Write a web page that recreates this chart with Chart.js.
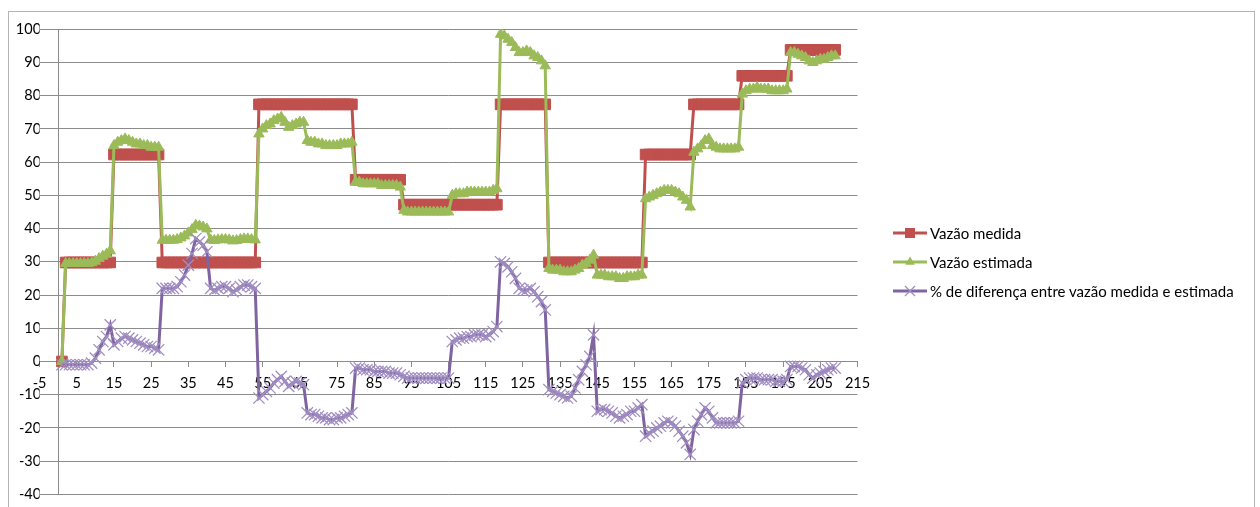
<!DOCTYPE html>
<html>
<head>
<meta charset="utf-8">
<script src="https://cdn.jsdelivr.net/npm/chart.js@4.4.1/dist/chart.umd.min.js"></script>
<style>
  html, body { margin: 0; padding: 0; background: #fff; overflow: hidden; }
  #wrap { position: relative; width: 1260px; height: 507px; }
  #frame { position: absolute; left: 8px; top: 11px; width: 1247px; height: 560px;
           border: 1px solid #b4b4b4; box-sizing: border-box; }
  #grafico { position: absolute; left: 0; top: 0; }
  #legenda { position: absolute; left: 893px; top: 218px; font-family: Lato, sans-serif;
             font-size: 15px; color: #000; }
  .item { display: flex; align-items: center; height: 29px; white-space: nowrap; }
  .item canvas { margin-right: 3px; }
</style>
</head>
<body>
<div id="wrap">
  <div id="frame"></div>
  <canvas id="grafico" width="1260" height="507"></canvas>
  <div id="legenda"></div>
</div>
<script>
// Número da amostra (eixo X)
const amostras = Array.from({ length: 209 }, (_, i) => i + 1);

// Marcas do eixo X
const marcasX = [-5, 5, 15, 25, 35, 45, 55, 65, 75, 85, 95, 105, 115, 125, 135, 145,
                 155, 165, 175, 185, 195, 205, 215];

const nomesSeries = [
  'Vazão medida',
  'Vazão estimada',
  '% de diferença entre vazão medida e estimada'
];

const vazaoMedida = [
  0,
  29.8, 29.8, 29.8, 29.8, 29.8, 29.8, 29.8, 29.8, 29.8, 29.8, 29.8, 29.8, 29.8,
  62.3, 62.3, 62.3, 62.3, 62.3, 62.3, 62.3, 62.3, 62.3, 62.3, 62.3, 62.3, 62.3,
  29.8, 29.8, 29.8, 29.8, 29.8, 29.8, 29.8, 29.8, 29.8, 29.8, 29.8, 29.8, 29.8,
  29.8, 29.8, 29.8, 29.8, 29.8, 29.8, 29.8, 29.8, 29.8, 29.8, 29.8, 29.8, 29.8,
  77.4, 77.4, 77.4, 77.4, 77.4, 77.4, 77.4, 77.4, 77.4, 77.4, 77.4, 77.4, 77.4,
  77.4, 77.4, 77.4, 77.4, 77.4, 77.4, 77.4, 77.4, 77.4, 77.4, 77.4, 77.4, 77.4,
  54.7, 54.7, 54.7, 54.7, 54.7, 54.7, 54.7, 54.7, 54.7, 54.7, 54.7, 54.7, 54.7,
  47.2, 47.2, 47.2, 47.2, 47.2, 47.2, 47.2, 47.2, 47.2, 47.2, 47.2, 47.2, 47.2,
  47.2, 47.2, 47.2, 47.2, 47.2, 47.2, 47.2, 47.2, 47.2, 47.2, 47.2, 47.2, 47.2,
  77.4, 77.4, 77.4, 77.4, 77.4, 77.4, 77.4, 77.4, 77.4, 77.4, 77.4, 77.4, 77.4,
  29.8, 29.8, 29.8, 29.8, 29.8, 29.8, 29.8, 29.8, 29.8, 29.8, 29.8, 29.8, 29.8,
  29.8, 29.8, 29.8, 29.8, 29.8, 29.8, 29.8, 29.8, 29.8, 29.8, 29.8, 29.8, 29.8,
  62.3, 62.3, 62.3, 62.3, 62.3, 62.3, 62.3, 62.3, 62.3, 62.3, 62.3, 62.3, 62.3,
  77.4, 77.4, 77.4, 77.4, 77.4, 77.4, 77.4, 77.4, 77.4, 77.4, 77.4, 77.4, 77.4,
  86, 86, 86, 86, 86, 86, 86, 86, 86, 86, 86, 86, 86,
  93.8, 93.8, 93.8, 93.8, 93.8, 93.8, 93.8, 93.8, 93.8, 93.8, 93.8, 93.8, 93.8
];

const vazaoEstimada = [
  0,
  29.5, 29.5, 29.5, 29.5, 29.5, 29.5, 29.5, 29.7, 30.2, 31, 31.7, 32.3, 33.3,
  65, 66, 66.5, 67, 66.5, 66, 65.5, 65.5, 65, 65, 64.5, 64.5, 64.5,
  36.5, 36.5, 36.5, 36.5, 36.7, 37.2, 37.8, 38.7, 39.7, 41, 40.8, 40.5, 39.9,
  36.6, 36.4, 36.6, 36.7, 36.7, 36.6, 36.3, 36.4, 36.7, 36.9, 36.9, 36.7, 36.6,
  68.5, 70, 71, 71.5, 72.5, 73, 73.5, 72, 70.5, 71, 71.5, 72, 72,
  66.5, 66, 66, 65.5, 65.5, 65, 65, 65, 65, 65.5, 65.5, 65.5, 66,
  54, 54, 53.5, 53.5, 53.5, 53.5, 53.5, 53, 53, 53, 53, 53, 52.5,
  45.5, 45, 45, 45, 45, 45, 45, 45, 45, 45, 45, 45, 45,
  50, 50.5, 50.5, 50.5, 51, 51, 51, 51, 51, 51, 51, 51.5, 52,
  98.5, 98, 97, 96, 94.5, 93, 93, 93.5, 93, 92, 91.5, 90.5, 89,
  28, 27.5, 27.5, 27.5, 27, 27, 27, 27.5, 28, 29, 29.5, 30.5, 32,
  26, 26, 26, 25.5, 25.5, 25.5, 25, 25, 25.5, 25.5, 25.5, 26, 26,
  49, 49.5, 50, 50.5, 51, 51.5, 51.5, 51.5, 51, 50.5, 49.5, 48.5, 46.5,
  63, 64, 65, 66.5, 67, 65, 64.5, 64, 64, 64, 64, 64, 64.5,
  80.5, 81.5, 82, 82, 82.5, 82, 82, 82, 81.5, 81.5, 81.5, 81.5, 82,
  93, 93, 92.5, 92, 91.5, 90.5, 90, 90.5, 91, 91, 91.5, 92, 92
];

const diferencaPct = [
  -1,
  -1, -1, -1, -1, -1, -1, -1, -0.5, 1, 3.5, 6, 7.5, 11,
  5, 6, 7, 7.5, 7, 6.5, 6, 5.5, 5, 4.5, 4.5, 4, 3.5,
  22, 22, 22, 22, 22.5, 24, 26, 29, 32.5, 37, 36, 35, 33,
  22, 21.5, 22, 22.5, 22.5, 22, 21, 21.5, 22.5, 23, 23, 22.5, 22,
  -11, -10, -9, -8, -6.5, -5.5, -4.5, -6, -7.5, -6.5, -6, -6.5, -7,
  -15.5, -16, -16, -16.5, -17, -17, -17.5, -17.5, -17, -17, -16.5, -16, -15.5,
  -2, -2, -2.5, -2.5, -2.5, -3, -3, -3, -3, -3.5, -3.5, -3.5, -4,
  -4.5, -5, -5, -5, -5, -5, -5, -5, -5, -5, -5, -5, -5,
  6, 6.5, 7, 7, 7.5, 7.5, 8, 8, 8, 7.5, 8, 9, 10.5,
  30, 29.5, 28.5, 27, 25, 22, 21.5, 21.5, 22, 21, 19.5, 18, 15.5,
  -8.5, -9, -9.5, -10, -10.5, -11, -10.5, -8, -5.5, -3, -1, 1.5, 8,
  -15, -14.5, -14.5, -15, -15.5, -16.5, -17, -16.5, -16, -15, -15, -14, -13,
  -22.5, -21.5, -21, -20, -19.5, -18.5, -18, -18.5, -19.5, -21, -22.5, -24.5, -28,
  -20.5, -18, -16, -14, -15, -17, -18.5, -18.5, -18.5, -18.5, -18.5, -18.5, -18,
  -6.5, -5.5, -5, -5, -5, -5.5, -5.5, -5.5, -5.5, -6, -6, -6, -5.5,
  -1.5, -1.5, -1.5, -2, -2.5, -4, -5, -4, -3.5, -3, -2.5, -2, -2
];

const corMedida = '#C0504D';
const corEstimada = '#9BBB59';
const corDiferenca = '#8064A2';
const corMarcaX = '#a08ec2';
const corEixo = '#8c8c8c';
const fonteEixo = { family: 'Lato', size: 14.5 };
const larguraRotulosY = 39.6;

const ctx = document.getElementById('grafico').getContext('2d');
new Chart(ctx, {
  type: 'line',
  data: {
    labels: amostras,
    datasets: [
      {
        label: nomesSeries[0],
        data: vazaoMedida,
        order: 3,
        borderColor: corMedida,
        backgroundColor: corMedida,
        borderWidth: 3,
        pointStyle: 'rect',
        pointRadius: 7.5,
        pointBorderWidth: 1,
        pointBackgroundColor: corMedida,
        pointBorderColor: corMedida,
        tension: 0,
        fill: false
      },
      {
        label: nomesSeries[1],
        data: vazaoEstimada,
        order: 2,
        borderColor: corEstimada,
        backgroundColor: corEstimada,
        borderWidth: 3,
        pointStyle: 'triangle',
        pointRadius: 6,
        pointBorderWidth: 1,
        pointBackgroundColor: corEstimada,
        pointBorderColor: corEstimada,
        tension: 0,
        fill: false
      },
      {
        label: nomesSeries[2],
        data: diferencaPct,
        order: 1,
        borderColor: corDiferenca,
        backgroundColor: corDiferenca,
        borderWidth: 3,
        pointStyle: 'crossRot',
        pointRadius: 8,
        pointBorderWidth: 1.25,
        pointBorderColor: corMarcaX,
        tension: 0,
        fill: false
      }
    ]
  },
  options: {
    responsive: false,
    animation: false,
    events: [],
    layout: { padding: { left: 0, right: 402.5, top: 29.3, bottom: 12.7 } },
    plugins: { legend: { display: false }, tooltip: { enabled: false } },
    scales: {
      x: {
        type: 'linear',
        min: -5,
        max: 215,
        position: { y: 0 },
        afterBuildTicks: (escala) => { escala.ticks = marcasX.map(v => ({ value: v })); },
        grid: { display: true, drawOnChartArea: false, drawTicks: true, tickLength: 5, color: corEixo },
        border: { display: true, color: corEixo, width: 1 },
        ticks: { font: fonteEixo, color: '#000', padding: 8, maxRotation: 0, autoSkip: false }
      },
      // rótulos e linhas de grade do eixo Y
      y: {
        type: 'linear',
        min: -40,
        max: 100,
        position: 'left',
        afterFit: (escala) => { escala.width = larguraRotulosY; },
        grid: { color: corEixo, drawTicks: false },
        border: { display: false },
        ticks: { stepSize: 10, font: fonteEixo, color: '#000', padding: -1.5 }
      },
      // linha do eixo Y cruzando em x = 0
      yEixo: {
        type: 'linear',
        min: -40,
        max: 100,
        position: { x: 0 },
        grid: { display: false },
        border: { display: true, color: corEixo, width: 1 },
        ticks: { display: false, stepSize: 10 }
      }
    }
  }
});

// Legenda: linha com o marcador de cada série
function desenhaAmostra(cv, cor, tipo) {
  const c = cv.getContext('2d');
  const w = cv.width, h = cv.height, cy = h / 2, cx = w / 2;
  c.strokeStyle = cor;
  c.lineWidth = 3;
  c.beginPath(); c.moveTo(0, cy); c.lineTo(w, cy); c.stroke();
  if (tipo === 'rect') {
    c.fillStyle = cor;
    c.fillRect(cx - 5, cy - 5, 10, 10);
  } else if (tipo === 'triangle') {
    c.fillStyle = cor;
    c.beginPath();
    c.moveTo(cx, cy - 5.5); c.lineTo(cx + 4.8, cy + 2.8); c.lineTo(cx - 4.8, cy + 2.8);
    c.closePath(); c.fill();
  } else {
    c.strokeStyle = corMarcaX;
    c.lineWidth = 1.25;
    c.beginPath();
    c.moveTo(cx - 5, cy - 5); c.lineTo(cx + 5, cy + 5);
    c.moveTo(cx + 5, cy - 5); c.lineTo(cx - 5, cy + 5);
    c.stroke();
  }
}

const legenda = document.getElementById('legenda');
const estilos = [[corMedida, 'rect'], [corEstimada, 'triangle'], [corDiferenca, 'cross']];
nomesSeries.forEach((nome, i) => {
  const linha = document.createElement('div');
  linha.className = 'item';
  const cv = document.createElement('canvas');
  cv.width = 34; cv.height = 14;
  desenhaAmostra(cv, estilos[i][0], estilos[i][1]);
  const txt = document.createElement('span');
  txt.textContent = nome;
  linha.appendChild(cv);
  linha.appendChild(txt);
  legenda.appendChild(linha);
});
</script>
</body>
</html>
